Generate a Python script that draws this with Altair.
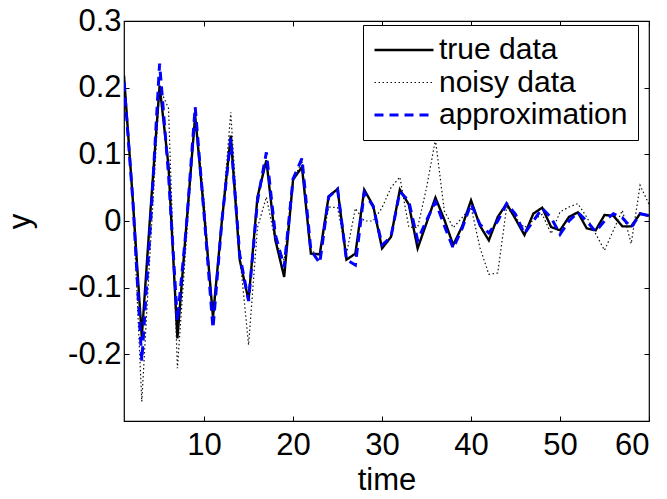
import altair as alt
import pandas as pd

time = list(range(1, 61))

true_data = [0.218, 0.03, -0.174, 0.02, 0.203, 0.083, -0.176, -0.008, 0.158, 0.013,
             -0.144, 0.0, 0.128, -0.058, -0.119, 0.036, 0.091, -0.028, -0.084, 0.062,
             0.081, -0.049, -0.05, 0.037, 0.048, -0.058, -0.049, 0.047, 0.023, -0.041,
             -0.024, 0.047, 0.025, -0.041, -0.003, 0.035, 0.002, -0.036, -0.008, 0.031,
             -0.007, -0.029, 0.006, 0.026, 0.003, -0.021, 0.011, 0.02, -0.009, -0.014,
             0.006, 0.013, -0.011, -0.014, 0.009, 0.008, -0.008, -0.008, 0.011, 0.008]

noisy_data = [0.22, 0.03, -0.271, -0.03, 0.2, 0.169, -0.221, -0.03, 0.16, 0.03,
              -0.15, 0.0, 0.163, -0.05, -0.186, -0.01, 0.036, -0.03, -0.059, 0.06,
              0.09, -0.045, -0.05, 0.021, 0.02, -0.05, 0.019, 0.0, 0.0, 0.02,
              0.05, 0.066, -0.009, -0.01, 0.05, 0.122, 0.015, -0.01, 0.005, 0.021,
              -0.04, -0.08, -0.078, 0.021, 0.005, -0.01, 0.001, 0.01, -0.019, 0.0135,
              0.021, 0.026, 0.006, -0.019, -0.044, -0.014, 0.016, -0.034, 0.0535, 0.025]

approximation = [0.208, 0.03, -0.21, 0.0, 0.236, 0.07, -0.15, -0.01, 0.171, 0.01,
                 -0.161, 0.0, 0.124, -0.05, -0.12, 0.03, 0.103, -0.02, -0.069, 0.063,
                 0.094, -0.044, -0.063, 0.036, 0.048, -0.058, -0.066, 0.043, 0.022, -0.036,
                 -0.024, 0.044, 0.03, -0.029, 0.001, 0.029, -0.007, -0.041, -0.011, 0.026,
                 -0.005, -0.018, 0.0, 0.026, 0.01, -0.019, 0.0, 0.019, 0.005, -0.02,
                 0.0, 0.013, 0.0, -0.016, 0.0, 0.011, 0.005, -0.01, 0.011, 0.008]

series_names = ["true data", "noisy data", "approximation"]
series_colors = ["black", "#111111", "#0000ff"]
series_dashes = [[1, 0], [1.5, 2.5], [9, 6]]
series_widths = [2.4, 1.2, 3]

x_ticks = [10, 20, 30, 40, 50, 60]
y_ticks = [-0.2, -0.1, 0, 0.1, 0.2, 0.3]

rows = []
for name, vals in zip(series_names, [true_data, noisy_data, approximation]):
    for t, v in zip(time, vals):
        rows.append({"time": t, "value": v, "series": name})
df = pd.DataFrame(rows)

FONT = "Liberation Sans"
FS = 31
LFS = 30

x_scale = alt.Scale(domain=[1, 60], nice=False, zero=False)
y_scale = alt.Scale(domain=[-0.3, 0.3], nice=False, zero=False)

legend = alt.Legend(
    orient="none", legendX=239, legendY=4, title=None,
    symbolType="stroke", symbolSize=3481, labelFontSize=LFS, labelFont=FONT,
    labelColor="black", strokeColor="black", fillColor="white",
    padding=10, labelOffset=4, rowPadding=2.5, clipHeight=30, labelLimit=400,
    cornerRadius=0,
)

ylabel_expr = ("datum.value == 0 ? '0' : (datum.value < 0 ? '-' + format(-datum.value, '.1f') "
               ": format(datum.value, '.1f'))")

x_axis = alt.Axis(orient="bottom", values=x_ticks, title="time", domain=False, grid=False,
                  tickSize=5, offset=-5, tickColor="black", labelPadding=9,
                  labelFontSize=FS, labelFont=FONT, labelColor="black",
                  titleFontSize=FS, titleFont=FONT, titleColor="black", titleFontWeight="normal",
                  titleBaseline="alphabetic", titleY=73, labelOverlap=False, labelFlush=10)
y_axis = alt.Axis(orient="left", values=y_ticks, title="y", domain=False, grid=False,
                  tickSize=5, offset=-5, tickColor="black", labelPadding=3,
                  labelExpr=ylabel_expr,
                  labelFontSize=FS, labelFont=FONT, labelColor="black",
                  titleFontSize=FS, titleFont=FONT, titleColor="black", titleFontWeight="normal",
                  titleAngle=270, titleBaseline="alphabetic", titleX=-100, titleY=200,
                  labelOverlap=False, labelFlush=False)

base = alt.Chart(df)

layers = []
for i, name in enumerate(series_names):
    layers.append(
        base.transform_filter(alt.datum.series == name).mark_line(clip=True).encode(
            x=alt.X("time:Q", scale=x_scale, axis=x_axis),
            y=alt.Y("value:Q", scale=y_scale, axis=y_axis),
            color=alt.Color("series:N", scale=alt.Scale(domain=series_names, range=series_colors), legend=legend),
            strokeDash=alt.StrokeDash("series:N", scale=alt.Scale(type="ordinal", domain=series_names, range=series_dashes), legend=legend),
            strokeWidth=alt.StrokeWidth("series:N", scale=alt.Scale(type="ordinal", domain=series_names, range=series_widths), legend=legend),
        )
    )
lines = alt.layer(*layers)

frame_axes = base.transform_filter(alt.datum.series == "true data").mark_line(opacity=0).encode(
    x=alt.X("time:Q", scale=x_scale,
            axis=alt.Axis(orient="top", values=x_ticks, title=None, labels=False, domain=False,
                          grid=False, tickSize=5, offset=-5, tickColor="black")),
    y=alt.Y("value:Q", scale=y_scale,
            axis=alt.Axis(orient="right", values=y_ticks, title=None, labels=False, domain=False,
                          grid=False, tickSize=5, offset=-5, tickColor="black")),
)

chart = alt.layer(lines, frame_axes).resolve_axis(x="independent", y="independent").properties(
    width=525, height=400,
    autosize=alt.AutoSizeParams(type="none"),
    padding={"left": 116, "top": 13, "right": 10, "bottom": 70},
    background="white",
).configure_view(stroke="black", strokeWidth=1.2)

chart.save("out.html", embed_options={"renderer": "svg", "actions": False})
